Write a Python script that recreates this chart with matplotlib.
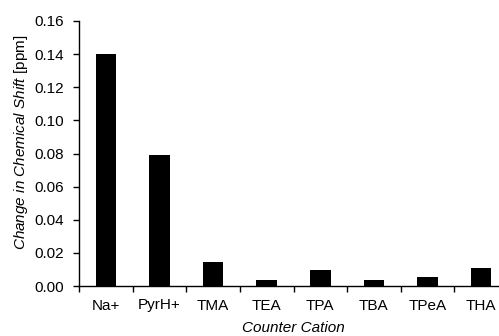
import matplotlib
matplotlib.use("Agg")
import matplotlib.pyplot as plt
import numpy as np

categories = ["Na+", "PyrH+", "TMA", "TEA", "TPA", "TBA", "TPeA", "THA"]
values = [0.140, 0.079, 0.0145, 0.0036, 0.0097, 0.0035, 0.0055, 0.011]
yticks = [0.00, 0.02, 0.04, 0.06, 0.08, 0.10, 0.12, 0.14, 0.16]

plt.rcParams['font.family'] = ['Liberation Sans', 'DejaVu Sans']
plt.rcParams['mathtext.fontset'] = 'custom'
plt.rcParams['mathtext.rm'] = 'Liberation Sans'
plt.rcParams['mathtext.it'] = 'Liberation Sans:italic'

W, H = 499, 336
fig = plt.figure(figsize=(W/100, H/100), dpi=100)
left, right, top, bottom = 79, 508, 21, 286
ax = fig.add_axes([left/W, 1 - bottom/H, (right-left)/W, (bottom-top)/H])

x = np.arange(len(categories))
ax.bar(x, values, width=0.38, color='black', edgecolor='none')
ax.set_xlim(-0.5, len(categories) - 0.5)
ax.set_ylim(0, 0.16)
fs = 11
ax.set_yticks(yticks)
ax.set_yticklabels([f"{v:.2f}" for v in yticks], fontsize=fs)
ax.set_xticks(x)
ax.set_xticklabels(categories, fontsize=fs)
ax.set_xticks(np.arange(len(categories) + 1) - 0.5, minor=True)
ax.tick_params(axis='x', which='major', length=0, pad=9)
ax.tick_params(axis='x', which='minor', length=4, width=1, direction='out', color='black')
ax.tick_params(axis='y', which='major', length=4, width=1, direction='out', pad=7, color='black')

for s in ['top', 'right']:
    ax.spines[s].set_visible(False)
for s in ['left', 'bottom']:
    ax.spines[s].set_linewidth(1)
    ax.spines[s].set_color('black')

ax.set_xlabel("Counter Cation", fontsize=fs, style='italic', labelpad=6)
ax.set_ylabel(r"$\it{Change\ in\ Chemical\ Shift}$ [ppm]", fontsize=fs)
ax.yaxis.set_label_coords((30 - left) / (right - left), (bottom - 142.5) / (bottom - top))

fig.savefig("out.png", dpi=100)
